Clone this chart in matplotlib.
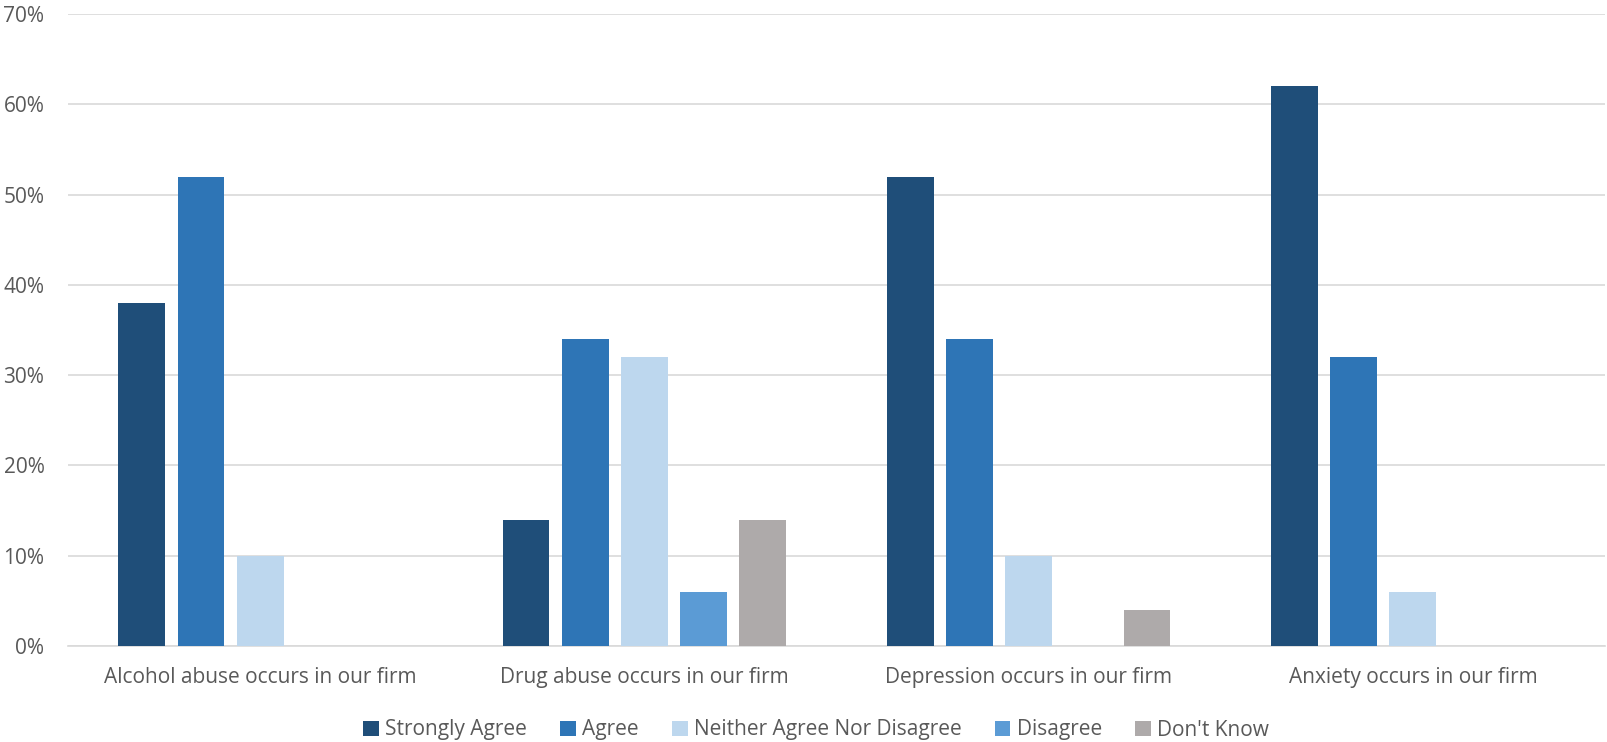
import matplotlib
matplotlib.use("Agg")
import matplotlib.pyplot as plt
import numpy as np
from matplotlib.ticker import FuncFormatter

categories = [
    "Alcohol abuse occurs in our firm",
    "Drug abuse occurs in our firm",
    "Depression occurs in our firm",
    "Anxiety occurs in our firm",
]
series_names = ["Strongly Agree", "Agree", "Neither Agree Nor Disagree", "Disagree", "Don't Know"]
strongly_agree = [38, 14, 52, 62]
agree = [52, 34, 34, 32]
neither = [10, 32, 10, 6]
disagree = [0, 6, 0, 0]
dont_know = [0, 14, 4, 0]
colors = ["#1F4E79", "#2E75B6", "#BDD7EE", "#5B9BD5", "#AEAAAA"]

text_color = "#595959"
grid_color = "#D9D9D9"

fig = plt.figure(figsize=(16.07, 7.42), dpi=100)
ax = fig.add_axes([68 / 1607, 1 - 646 / 742, (1605 - 68) / 1607, (646 - 14) / 742])

x = np.arange(len(categories))
pitch = 0.154
width = 0.122
all_series = [strongly_agree, agree, neither, disagree, dont_know]
handles = []
for i, (vals, name, c) in enumerate(zip(all_series, series_names, colors)):
    b = ax.bar(x + (i - 2) * pitch, vals, width=width, color=c, label=name, zorder=3)
    handles.append(b)

ax.set_xlim(-0.5, len(categories) - 0.5)
ax.set_ylim(0, 70)
ax.set_yticks(np.arange(0, 71, 10))
ax.yaxis.set_major_formatter(FuncFormatter(lambda v, p: f"{int(v)}%"))
ax.yaxis.grid(True, color=grid_color, linewidth=1.2, zorder=0)
ax.set_axisbelow(True)
for s in ["top", "right", "left"]:
    ax.spines[s].set_visible(False)
ax.spines["bottom"].set_color(grid_color)
ax.spines["bottom"].set_linewidth(1.2)
ax.set_xticks(x)
ax.set_xticklabels(categories)
ax.tick_params(axis="both", length=0, colors=text_color)
ax.tick_params(axis="y", pad=17, labelsize=15)
ax.tick_params(axis="x", pad=15, labelsize=15)
for lab in ax.get_xticklabels() + ax.get_yticklabels():
    lab.set_fontfamily(["Open Sans", "DejaVu Sans"])

leg = fig.legend(
    handles=handles, labels=series_names, loc="center", ncol=5,
    bbox_to_anchor=(816 / 1607, 1 - 730 / 742), frameon=False,
    handlelength=0.75, handleheight=0.75, handletextpad=0.3, columnspacing=1.6,
    prop={"family": ["Open Sans", "DejaVu Sans"], "size": 15},
)
for t in leg.get_texts():
    t.set_color(text_color)

fig.savefig("out.png", dpi=100)
